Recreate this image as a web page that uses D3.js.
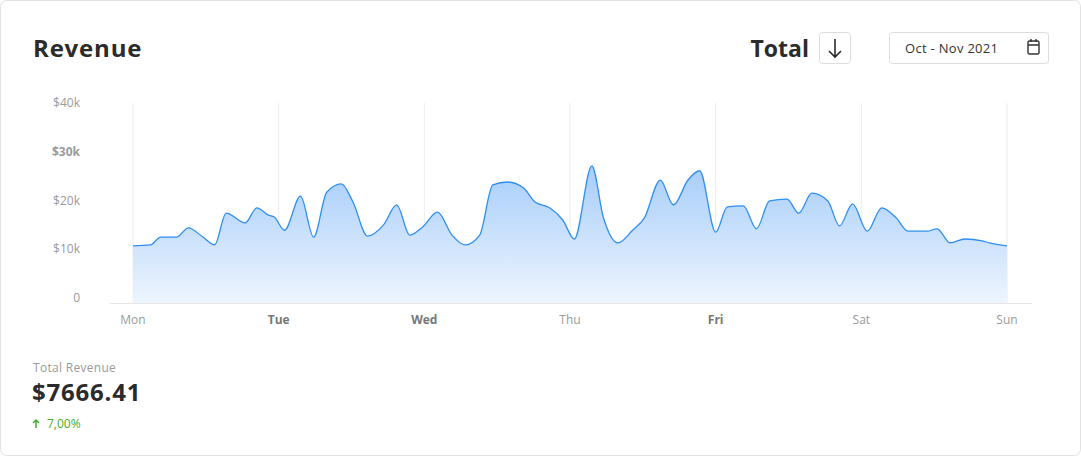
<!DOCTYPE html>
<html><head><meta charset="utf-8">
<script src="https://cdn.jsdelivr.net/npm/d3@7"></script>
<style>
body{margin:0;background:#fff;font-family:"Open Sans",Lato,sans-serif}
</style></head>
<body>
<svg id="chart" width="1081" height="456"></svg>
<script>
// data (x in days from Mon, value in $k)
const days = ['Mon', 'Tue', 'Wed', 'Thu', 'Fri', 'Sat', 'Sun']
const boldDays = ['Tue', 'Wed', 'Fri']
const yTicks = [0, 10, 20, 30, 40]
const xPos = [0, .12, .19, .30, .38, .48, .56, .64, .77, .85, .93, .97, 1.04, 1.15, 1.24, 1.33, 1.43, 1.51, 1.61, 1.72, 1.81, 1.90, 1.99, 2.09, 2.19, 2.28, 2.38, 2.47, 2.57, 2.68, 2.76, 2.86, 2.95, 3.03, 3.15, 3.23, 3.33, 3.43, 3.51, 3.62, 3.71, 3.81, 3.89, 4.00, 4.08, 4.19, 4.28, 4.37, 4.49, 4.57, 4.66, 4.77, 4.85, 4.94, 5.04, 5.14, 5.24, 5.32, 5.45, 5.52, 5.61, 5.71, 5.83, 5.88, 6]
const revenue = [10.7, 10.9, 12.5, 12.5, 14.4, 12.5, 10.9, 17.4, 15.4, 18.5, 17.0, 16.6, 13.9, 20.9, 12.5, 21.7, 23.4, 19.7, 12.7, 15.0, 19.1, 12.9, 14.6, 17.6, 12.9, 10.9, 12.9, 23.2, 23.8, 22.6, 19.7, 18.5, 16.0, 12.1, 27.1, 16.4, 11.3, 13.9, 16.4, 24.2, 19.1, 24.2, 26.1, 13.5, 18.7, 18.9, 14.2, 19.9, 20.3, 17.4, 21.5, 19.9, 14.8, 19.3, 13.7, 18.5, 16.4, 13.7, 13.7, 14.2, 11.3, 12.1, 11.7, 11.3, 10.7]

const svg = d3.select('#chart')

svg.append('rect').attr('x', .5).attr('y', .5).attr('width', 1080).attr('height', 455)
	.attr('rx', 6).attr('fill', '#fff').attr('stroke', '#e2e2e2')

svg.append('text').attr('x', 33).attr('y', 57).text('Revenue')
	.attr('font-size', 24).attr('letter-spacing', 0.8).attr('font-weight', 700).attr('fill', '#2b2b2b')
svg.append('text').attr('x', 809).attr('y', 57).attr('text-anchor', 'end').text('Total')
	.attr('font-size', 23).attr('font-weight', 700).attr('fill', '#2b2b2b')
svg.append('rect').attr('x', 819.5).attr('y', 32.5).attr('width', 31).attr('height', 31).attr('rx', 3)
	.attr('fill', '#fff').attr('stroke', '#ddd')
svg.append('path').attr('d', 'M835 39V57M829 51L835 57L841 51').attr('fill', 'none')
	.attr('stroke', '#2b2b2b').attr('stroke-width', 1.6)
svg.append('rect').attr('x', 889.5).attr('y', 32.5).attr('width', 159).attr('height', 31).attr('rx', 3)
	.attr('fill', '#fff').attr('stroke', '#ddd')
svg.append('text').attr('x', 905).attr('y', 53).text('Oct - Nov 2021')
	.attr('font-size', 13).attr('letter-spacing', 0.3).attr('fill', '#333')
const cal = svg.append('g').attr('fill', 'none').attr('stroke', '#333').attr('stroke-width', 1.4)
cal.append('rect').attr('x', 1028).attr('y', 41).attr('width', 11).attr('height', 13).attr('rx', 1.5)
cal.append('path').attr('d', 'M1028 45H1039M1031 39V42M1036 39V42')

const x = d3.scaleLinear().domain([0, 6]).range([133, 1007])
const y = d3.scaleLinear().domain([0, 40]).range([298, 103])
const base = 303

svg.append('g').selectAll('line').data(d3.range(7)).join('line')
	.attr('x1', d => x(d)).attr('x2', d => x(d)).attr('y1', 103).attr('y2', base)
	.attr('stroke', '#ececec')
svg.append('line').attr('x1', 110).attr('x2', 1032).attr('y1', base + .5).attr('y2', base + .5)
	.attr('stroke', '#e6e6e6')

svg.append('g').selectAll('text').data(yTicks).join('text')
	.attr('x', 80).attr('y', d => y(d) + 4).attr('text-anchor', 'end')
	.attr('font-size', 12).attr('fill', '#9a9a9a')
	.attr('font-weight', d => d === 30 ? 700 : 400)
	.text(d => d === 0 ? '0' : '$' + d + 'k')

svg.append('g').selectAll('text').data(days).join('text')
	.attr('x', (d, i) => x(i)).attr('y', 324).attr('text-anchor', 'middle')
	.attr('font-size', 12).attr('fill', d => boldDays.includes(d) ? '#777' : '#9a9a9a')
	.attr('font-weight', d => boldDays.includes(d) ? 700 : 400)
	.text(d => d)

const grad = svg.append('defs').append('linearGradient').attr('id', 'g')
	.attr('x1', 0).attr('x2', 0).attr('y1', 0).attr('y2', 1)
grad.append('stop').attr('offset', '0%').attr('stop-color', '#a6cdfa')
grad.append('stop').attr('offset', '100%').attr('stop-color', '#eef5fe')

const pts = xPos.map((d, i) => [d, revenue[i]])
svg.append('path').datum(pts).attr('fill', 'url(#g)')
	.attr('d', d3.area().x(d => x(d[0])).y0(base).y1(d => y(d[1])).curve(d3.curveMonotoneX))
svg.append('path').datum(pts).attr('fill', 'none').attr('stroke', '#2f8ef2').attr('stroke-width', 1.3)
	.attr('d', d3.line().x(d => x(d[0])).y(d => y(d[1])).curve(d3.curveMonotoneX))

svg.append('text').attr('x', 33).attr('y', 372).text('Total Revenue')
	.attr('font-size', 12).attr('letter-spacing', 0.3).attr('fill', '#9a9a9a')
svg.append('text').attr('x', 32).attr('y', 401).text('$7666.41')
	.attr('font-size', 24).attr('letter-spacing', 0.8).attr('font-weight', 700).attr('fill', '#2b2b2b')
svg.append('path').attr('d', 'M36 428V420M33 423L36 420L39 423').attr('fill', 'none')
	.attr('stroke', '#3fae2a').attr('stroke-width', 1.5)
svg.append('text').attr('x', 47).attr('y', 428).text('7,00%')
	.attr('font-size', 12).attr('fill', '#3fae2a')
</script>
</body></html>
